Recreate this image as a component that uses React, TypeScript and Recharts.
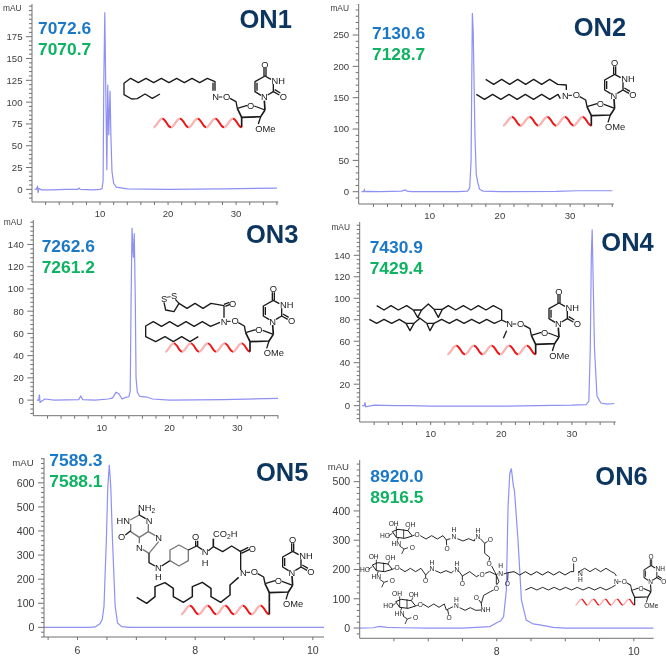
import React from 'react';
import { LineChart, Line, XAxis, YAxis } from 'recharts';

const on1Time = [0.4, 0.6, 0.8, 0.9, 1.0, 1.4, 3, 5, 6.7, 6.9, 7.1, 9, 10, 10.3, 10.45, 10.55, 10.7, 10.85, 11.0, 11.13, 11.28, 11.47, 11.6, 11.76, 12.0, 12.4, 14, 20, 28, 36];
const on1Signal = [0, 0, 3, -4, 1, -0.5, -0.5, 0, 0, 1.5, 0, -0.5, 0, 1, 10, 120, 203, 110, 22, 120, 62, 113, 60, 20, 7, 2.5, 0.5, 0, 0.5, 1.5];
const on2Time = [0.3, 0.6, 0.7, 0.8, 1.2, 3, 4.5, 6, 6.5, 6.8, 7.4, 10, 14, 15.4, 15.7, 15.9, 16.08, 16.2, 16.3, 16.45, 16.63, 16.85, 17.1, 17.6, 20, 28, 31, 36];
const on2Signal = [0, 0, 3, 0, 0.5, 0, 0.5, 1, 3, 1, 0, 0, 0, 1, 6, 50, 285, 255, 190, 90, 28, 15, 4, 1, 0, 0.5, 1.5, 1.5];
const on3Time = [0.4, 0.7, 0.8, 0.9, 1.6, 3, 6.6, 6.9, 7.2, 9, 11, 11.6, 12.1, 12.5, 13, 13.5, 14, 14.2, 14.33, 14.47, 14.6, 14.67, 14.8, 14.95, 15.06, 15.25, 15.6, 16.1, 16.5, 17.5, 20, 28, 36];
const on3Signal = [0, 0, 5, -2, 1, 0, 0.5, 3.5, 0.5, 0, 1, 2, 7, 6, 1, 2.5, 3, 8, 90, 155, 135, 128, 150, 90, 20, 7, 3.5, 3, 3, 1, 0, 0.5, 1.5];
const on4Time = [0.3, 0.6, 0.7, 0.8, 2, 5, 6.7, 7.1, 10, 15, 20, 25, 30, 32, 32.4, 32.6, 32.75, 32.87, 33, 33.2, 33.55, 34.1, 35, 36];
const on4Signal = [0, 0, 3, -1, 0.5, 0, 0, 0, -0.5, -0.5, -0.5, 0, 0.5, 1, 4, 53, 140, 164, 120, 53, 9, 2.5, 1.5, 2];
const on5Time = [5.43, 6.2, 6.3, 6.38, 6.42, 6.45, 6.49, 6.515, 6.54, 6.565, 6.594, 6.64, 6.68, 6.75, 6.9, 8, 10.19];
const on5Signal = [0, 0, 2, 15, 32, 87, 364, 585, 675, 585, 364, 87, 18, 3, 0, 0, 0];
const on6Time = [6, 6.2, 6.29, 6.4, 6.6, 7, 7.5, 7.9, 8, 8.06, 8.1, 8.14, 8.165, 8.19, 8.213, 8.24, 8.26, 8.31, 8.36, 8.43, 8.53, 8.65, 8.82, 9, 10.29];
const on6Signal = [0, 1, 6, 2, 1, 0, 0, 5, 18, 25, 39, 130, 414, 528, 545, 490, 465, 300, 96, 27, 14, 10, 2, 0, 0];

const on1YTicks = [-10, -5, 0, 5, 10, 15, 20, 25, 30, 35, 40, 45, 50, 55, 60, 65, 70, 75, 80, 85, 90, 95, 100, 105, 110, 115, 120, 125, 130, 135, 140, 145, 150, 155, 160, 165, 170, 175, 180, 185, 190, 195, 200, 205, 210];
const on1YLabels = [0, 25, 50, 75, 100, 125, 150, 175];
const on2YTicks = [-10, 0, 10, 20, 30, 40, 50, 60, 70, 80, 90, 100, 110, 120, 130, 140, 150, 160, 170, 180, 190, 200, 210, 220, 230, 240, 250, 260, 270, 280, 290, 300];
const on2YLabels = [0, 50, 100, 150, 200, 250];
const on3YTicks = [-12, -8, -4, 0, 4, 8, 12, 16, 20, 24, 28, 32, 36, 40, 44, 48, 52, 56, 60, 64, 68, 72, 76, 80, 84, 88, 92, 96, 100, 104, 108, 112, 116, 120, 124, 128, 132, 136, 140, 144, 148, 152, 156, 160];
const on3YLabels = [0, 20, 40, 60, 80, 100, 120, 140];
const on4YTicks = [-12, -8, -4, 0, 4, 8, 12, 16, 20, 24, 28, 32, 36, 40, 44, 48, 52, 56, 60, 64, 68, 72, 76, 80, 84, 88, 92, 96, 100, 104, 108, 112, 116, 120, 124, 128, 132, 136, 140, 144, 148, 152, 156, 160, 164, 168];
const on4YLabels = [0, 20, 40, 60, 80, 100, 120, 140];
const on5YTicks = [-40, -20, 0, 20, 40, 60, 80, 100, 120, 140, 160, 180, 200, 220, 240, 260, 280, 300, 320, 340, 360, 380, 400, 420, 440, 460, 480, 500, 520, 540, 560, 580, 600, 620, 640, 660, 680, 700];
const on5YLabels = [0, 100, 200, 300, 400, 500, 600];
const on6YTicks = [-20, 0, 20, 40, 60, 80, 100, 120, 140, 160, 180, 200, 220, 240, 260, 280, 300, 320, 340, 360, 380, 400, 420, 440, 460, 480, 500, 520, 540, 560];
const on6YLabels = [0, 100, 200, 300, 400, 500];
const longXTicks = [2, 4, 6, 8, 10, 12, 14, 16, 18, 20, 22, 24, 26, 28, 30, 32, 34, 36];
const longXLabels = [10, 20, 30];
const on5XTicks = [5.5, 6, 6.5, 7, 7.5, 8, 8.5, 9, 9.5, 10];
const on6XTicks = [6.5, 7, 7.5, 8, 8.5, 9, 9.5, 10];
const shortXLabels = [6, 8, 10];

const TRACE = '#8e90f4';
const AXIS = '#707070';
const TICK_TEXT = '#3c3c3c';
const SANS = '"Liberation Sans", Arial, sans-serif';

const toRows = (time: number[], signal: number[]) => time.map((t, i) => ({ t, v: signal[i] }));

const Chart = (p: any) => {
  const w = p.axisRight + 8 - p.left;
  const h = p.axisY + 22 - p.top;
  const xMajor = (v: number) => p.xLabels.includes(v);
  const yMajor = (v: number) => p.yLabels.includes(v);
  return (
    <div style={{ position: 'absolute', left: p.left, top: p.top }}>
      <LineChart width={w} height={h} data={toRows(p.time, p.signal)} margin={{ top: p.axisTop - p.top, right: 8, left: 0, bottom: 0 }}>
        <XAxis
          dataKey="t"
          type="number"
          domain={p.xDomain}
          allowDataOverflow
          ticks={p.xTicks}
          interval={0}
          height={22}
          stroke={AXIS}
          tickLine={false}
          tickSize={0}
          tickMargin={0}
          tick={(t: any) => (
            <g>
              <line x1={t.x} x2={t.x} y1={t.y} y2={t.y + 3} stroke={AXIS} />
              {xMajor(t.payload.value) && (
                <text x={t.x} y={t.y + p.xLabelGap} textAnchor="middle" fontSize={p.fontSize} fontFamily={SANS} fill={TICK_TEXT}>{t.payload.value}</text>
              )}
            </g>
          )}
        />
        <YAxis
          type="number"
          domain={p.yDomain}
          allowDataOverflow
          ticks={p.yTicks}
          interval={0}
          width={p.axisX - p.left}
          stroke={AXIS}
          tickLine={false}
          tickSize={0}
          tickMargin={0}
          tick={(t: any) => (
            <g>
              <line x1={t.x - (yMajor(t.payload.value) ? 6 : 3)} x2={t.x} y1={t.y} y2={t.y} stroke={AXIS} />
              {yMajor(t.payload.value) && (
                <text x={t.x - 9.5} y={t.y + p.fontSize * 0.36} textAnchor="end" fontSize={p.fontSize} fontFamily={SANS} fill={TICK_TEXT}>{t.payload.value}</text>
              )}
            </g>
          )}
        />
        <Line dataKey="v" type="linear" stroke={TRACE} strokeWidth={1.2} dot={false} isAnimationActive={false} />
      </LineChart>
    </div>
  );
};

// skeleton drawings are in crop coordinates (3x), each panel group scales them back
const zig = (x: number, y: number, n: number, step: number, rise: number) =>
  Array.from({ length: n }, (_, i) => `${x + i * step},${i % 2 ? y + rise : y}`).join(' ');

const Bond = ({ d, w = 4, c = '#1a1a1a' }: { d: string; w?: number; c?: string }) => (
  <polyline points={d} fill="none" stroke={c} strokeWidth={w} strokeLinejoin="round" />
);

const Atom = ({ x, y, t, s = 28 }: { x: number; y: number; t: React.ReactNode; s?: number }) => (
  <text x={x} y={y + s * 0.36} textAnchor="middle" fontSize={s} fontFamily={SANS} fill="#1a1a1a">{t}</text>
);

const Helix = ({ x, y, s = 1 }: { x: number; y: number; s?: number }) => (
  <g transform={`translate(${x},${y}) scale(${s})`}>
    {[0, 1, 2, 3, 4].map((i) => {
      const b = -265 + 53 * i;
      return (
        <g key={i} fill="none">
          <path d={`M${b},0 C${b + 10},0 ${b + 16},-26 ${b + 27},-26`} stroke="#f8b4b4" strokeWidth={7} />
          <path d={`M${b + 27},-26 C${b + 38},-26 ${b + 42},0 ${b + 53},0`} stroke="#f01515" strokeWidth={6} />
        </g>
      );
    })}
  </g>
);

const Nucleoside = ({ x, y, s = 1, sx }: { x: number; y: number; s?: number; sx?: number }) => (
  <g transform={`translate(${x},${y}) scale(${sx ?? s},${s})`}>
    <Bond d="0,0 0,-30 57,-32 70,-52" w={5} />
    <Bond d="0,-30 -13,-57" w={5} />
    <Bond d="-13,-57 17,-66" />
    <Bond d="38,-64 70,-52" />
    <Atom x={27} y={-65} t="O" />
    <Bond d="57,-32 50,-10" />
    <text x={41} y={13} fontSize={28} fontFamily={SANS} fill="#1a1a1a">OMe</text>
    <Bond d="70,-52 68,-80" w={5} />
    <Atom x={68} y={-91} t="N" />
    <Bond d="58,-96 40,-107 40,-137 70,-154 88,-144" />
    <Bond d="46,-110 46,-134" />
    <Atom x={110} y={-141} t="NH" />
    <Bond d="95,-130 95,-107 78,-97" />
    <Bond d="95,-107 113,-97" />
    <Bond d="99,-113 116,-103" />
    <Atom x={125} y={-92} t="O" />
    <Bond d="67,-154 67,-178" />
    <Bond d="73,-154 73,-178" />
    <Atom x={70} y={-188} t="O" />
    <Bond d="-13,-57 -17,-77 -35,-87" />
    <Atom x={-45} y={-92} t="O" />
    <Bond d="-69,-91 -58,-91" w={3} />
    <Atom x={-78} y={-91} t="N" />
  </g>
);

const GalNAc = ({ x, y }: { x: number; y: number }) => (
  <g transform={`translate(${x},${y})`}>
    <Bond d="178,275 195,268 225,272 238,288 215,295 190,292 178,275" w={3} />
    <Bond d="190,259 190,292" w={2.5} />
    <Bond d="212,268 212,295" w={2.5} />
    <Bond d="225,272 230,262" w={2.5} />
    <Bond d="166,288 178,280" w={2.5} />
    <Bond d="196,294 193,302" w={2.5} />
    <Bond d="238,288 245,285" w={2.5} />
    <Bond d="200,318 213,327 225,323" w={2.5} />
    <Bond d="213,327 206,342" w={2.5} />
    <Atom x={182} y={250} t="OH" s={20} />
    <Atom x={232} y={254} t="OH" s={20} />
    <Atom x={156} y={288} t="HO" s={20} />
    <Atom x={190} y={310} t="HN" s={20} />
    <Atom x={238} y={322} t="O" s={20} />
    <Atom x={252} y={283} t="O" s={20} />
  </g>
);

const Panel = ({ x, y, children }: { x: number; y: number; children: React.ReactNode }) => (
  <g transform={`translate(${x},${y}) scale(${1 / 3})`}>{children}</g>
);

const Structures = () => (
  <svg width={666} height={657} style={{ position: 'absolute', left: 0, top: 0 }}>
    <Panel x={0} y={0}>
      <Bond d={`480,282 457,295 435,282 412,296 395,297 372,284 372,250 392,235 ${zig(415, 248, 10, 23, -13)} 645,245 645,272`} />
      <Bond d="639,248 639,272" />
      <Helix x={725} y={382} />
      <Nucleoside x={725} y={382} />
    </Panel>
    <Panel x={333} y={0}>
      <Bond d={`${zig(458, 238, 10, 24, 15)} 700,255 700,270`} />
      <Bond d={`${zig(430, 283, 11, 24.5, 15)} 682,296`} />
      <Helix x={775} y={377} />
      <Nucleoside x={775} y={377} />
    </Panel>
    <Panel x={0} y={215}>
      <Atom x={492} y={250} t="S" />
      <Atom x={522} y={243} t="S" />
      <Bond d="492,262 497,285 522,290 537,265 526,253" />
      <Bond d="500,247 512,245" w={2.5} />
      <Bond d={`${zig(537, 265, 5, 24, 15)} 672,272 672,308`} />
      <Bond d="672,268 688,262" />
      <Bond d="676,274 690,268" />
      <Atom x={698} y={265} t="O" />
      <Bond d={`595,365 570,380 545,365 520,380 495,365 467,380 437,365 437,333 ${zig(460, 320, 8, 24.5, 14)} 660,322`} />
      <Helix x={750} y={410} s={0.96} />
      <Nucleoside x={750} y={410} />
    </Panel>
    <Panel x={333} y={215}>
      <Bond d="131,272 153,285 174,272 196,285 221,272 241,285" />
      <Bond d="266,285 286,267 303,283" />
      <Bond d="328,283 346,272 368,285 391,272 414,285 436,272 459,285 481,272 506,285 506,315 521,322" />
      <Bond d="109,313 131,325 153,313 176,325 199,313 219,325" />
      <Bond d="243,325 261,310 281,325" />
      <Bond d="303,325 326,313 349,325 371,313 393,325 416,313 439,325 461,313 484,325 506,315" />
      <Bond d="241,285 266,285 254,307 241,285" />
      <Bond d="303,283 328,283 316,307 303,283" />
      <Bond d="219,325 243,325 231,347 219,325" />
      <Bond d="281,325 303,325 291,347 281,325" />
      <Bond d="254,307 261,310" />
      <Bond d="521,347 511,370" />
      <Helix x={608} y={418} />
      <Nucleoside x={608} y={418} />
    </Panel>
    <Panel x={0} y={440}>
      <Atom x={440} y={203} t={<>NH<tspan dy={6} fontSize={20}>2</tspan></>} />
      <Atom x={370} y={243} t="HN" />
      <Atom x={447} y={243} t="N" />
      <Atom x={365} y={290} t="O" />
      <Atom x={476} y={293} t="N" />
      <Atom x={418} y={322} t="N" />
      <Bond d="418,212 418,225 437,236" />
      <Bond d="418,225 390,240" c="#777777" />
      <Bond d="392,252 392,275 418,292 445,275 445,252" c="#777777" />
      <Bond d="418,292 418,310" c="#777777" />
      <Bond d="445,275 466,287" c="#777777" />
      <Bond d="476,305 447,340 428,328" c="#777777" />
      <Bond d="392,272 376,285" />
      <Bond d="447,340 447,368 465,378" />
      <Atom x={475} y={383} t="N" />
      <Atom x={475} y={410} t="H" />
      <Bond d="485,378 510,362" />
      <Bond d="510,362 510,330 537,315 565,330 565,362 537,378 510,362" c="#777777" />
      <Bond d="565,330 590,318 606,328" />
      <Bond d="587,318 587,302" />
      <Bond d="593,318 593,302" />
      <Atom x={587} y={291} t="O" />
      <Atom x={615} y={335} t="N" />
      <Atom x={615} y={368} t="H" />
      <Bond d="625,332 640,320 668,335 695,318 722,335" />
      <Bond d="640,320 640,296" w={5} />
      <Atom x={676} y={282} t={<>CO<tspan dy={6} fontSize={20}>2</tspan><tspan dy={-6}>H</tspan></>} />
      <Bond d="720,335 745,322" />
      <Bond d="724,340 749,328" />
      <Atom x={757} y={325} t="O" />
      <Bond d="722,335 722,390" />
      <Bond d="410,472 440,490 465,470 465,440 495,428 520,445 520,470 550,487 577,470 577,440 607,427 633,445 633,470 662,487 690,465 690,435 716,412" w={4.5} />
      <Helix x={808} y={523} />
      <Bond d="808,523 808,488" w={5} />
      <Nucleoside x={808} y={488} />
    </Panel>
    <Panel x={333} y={440}>
      <GalNAc x={0} y={0} />
      <GalNAc x={-60} y={100} />
      <GalNAc x={10} y={210} />
      <Bond d={`${zig(262, 287, 5, 17, 10)} 340,300 352,296`} w={2.8} />
      <Bond d="340,300 341,316" w={2.8} />
      <Atom x={342} y={325} t="O" s={20} />
      <Atom x={363} y={291} t="N" s={20} />
      <Atom x={363} y={270} t="H" s={20} />
      <Bond d={`${zig(373, 296, 4, 17, 7)} 426,296`} w={2.8} />
      <Atom x={435} y={290} t="N" s={20} />
      <Atom x={435} y={272} t="H" s={20} />
      <Bond d="442,296 455,310 464,304" w={2.8} />
      <Atom x={472} y={300} t="O" s={20} />
      <Bond d="455,310 455,340 470,352 468,362" w={2.8} />
      <Atom x={468} y={372} t="O" s={20} />
      <Bond d="476,378 485,395 490,405" w={2.8} />
      <Bond d={`${zig(200, 385, 5, 16, 10)} 278,405 290,392`} w={2.8} />
      <Bond d="278,405 278,414" w={2.8} />
      <Atom x={278} y={423} t="O" s={20} />
      <Atom x={297} y={387} t="N" s={20} />
      <Atom x={297} y={367} t="H" s={20} />
      <Bond d={`${zig(307, 392, 4, 16, 7)} 362,392`} w={2.8} />
      <Atom x={372} y={388} t="N" s={20} />
      <Atom x={372} y={370} t="H" s={20} />
      <Bond d="378,394 388,408 388,422" w={2.8} />
      <Atom x={388} y={432} t="O" s={20} />
      <Bond d="388,408 410,395 430,410 438,406" w={2.8} />
      <Atom x={447} y={403} t="O" s={20} />
      <Bond d="456,400 470,395 490,405 490,432" w={2.8} />
      <Bond d={`${zig(270, 492, 5, 16, 10)} 340,510 360,500`} w={2.8} />
      <Bond d="344,510 347,524" w={2.8} />
      <Atom x={348} y={533} t="O" s={20} />
      <Atom x={370} y={498} t="N" s={20} />
      <Atom x={370} y={478} t="H" s={20} />
      <Bond d={`${zig(380, 503, 4, 16, 8)} 445,510`} w={2.8} />
      <Atom x={458} y={508} t="NH" s={20} />
      <Bond d="446,500 445,490 438,480" w={2.8} />
      <Atom x={430} y={472} t="O" s={20} />
      <Bond d="445,490 452,466 472,455 482,450" w={2.8} />
      <Atom x={490} y={445} t="O" s={20} />
      <Bond d="490,436 498,425 490,405" w={2.8} />
      <Atom x={503} y={378} t="H" s={20} />
      <Atom x={503} y={400} t="N" s={20} />
      <Bond d="490,405 495,400" w={2.8} />
      <Bond d="512,402 525,398 524,422" w={2.8} />
      <Atom x={523} y={432} t="O" s={20} />
      <Bond d={`525,398 ${zig(543, 395, 11, 17, 10)} 722,395`} w={3} />
      <Bond d="722,395 722,370" w={2.8} />
      <Atom x={725} y={360} t="O" s={20} />
      <Atom x={742} y={402} t="N" s={20} />
      <Atom x={742} y={420} t="H" s={20} />
      <Bond d={`735,397 ${zig(755, 385, 6, 16, 10)} 845,400 850,408`} w={2.8} />
      <Bond d={`${zig(577, 450, 16, 17.3, -8)} 848,435`} w={2.8} />
      <Helix x={905} y={495} s={0.67} />
      <Nucleoside x={905} y={495} s={0.77} sx={0.7} />
    </Panel>
  </svg>
);

const Masses = ({ x, y1, y2, a, b }: { x: number; y1: number; y2: number; a: string; b: string }) => (
  <>
    <text x={x} y={y1} fontSize={17.4} fontWeight="bold" fontFamily={SANS} fill="#1a78c8">{a}</text>
    <text x={x} y={y2} fontSize={17.4} fontWeight="bold" fontFamily={SANS} fill="#0db360">{b}</text>
  </>
);

const Title = ({ x, y, t }: { x: number; y: number; t: string }) => (
  <text x={x} y={y} fontSize={25.5} fontWeight="bold" fontFamily={SANS} fill="#0c355f">{t}</text>
);

const Unit = ({ x, y, end, s = 8.4 }: { x: number; y: number; end?: boolean; s?: number }) => (
  <text x={x} y={y} fontSize={s} textAnchor={end ? 'end' : 'start'} fontFamily={SANS} fill={TICK_TEXT}>mAU</text>
);

export default function App() {
  return (
    <div style={{ position: 'absolute', left: 0, top: 0, width: 666, height: 657, background: '#fff', overflow: 'hidden', filter: 'blur(0.3px)' }}>
      <Chart left={0} top={4} axisX={32} axisY={202} axisTop={4} axisRight={278.3} time={on1Time} signal={on1Signal} xDomain={[0, 36.2]} yDomain={[-14.5, 212.5]} xTicks={longXTicks} xLabels={longXLabels} yTicks={on1YTicks} yLabels={on1YLabels} fontSize={9.6} xLabelGap={15.5} />
      <Chart left={326} top={4} axisX={358.7} axisY={204} axisTop={4} axisRight={613.7} time={on2Time} signal={on2Signal} xDomain={[-0.1, 36.2]} yDomain={[-19.6, 299.5]} xTicks={longXTicks} xLabels={longXLabels} yTicks={on2YTicks} yLabels={on2YLabels} fontSize={9.6} xLabelGap={15.5} />
      <Chart left={0} top={220} axisX={33.3} axisY={415.7} axisTop={220} axisRight={278.3} time={on3Time} signal={on3Signal} xDomain={[-0.1, 36.05]} yDomain={[-14, 162]} xTicks={longXTicks} xLabels={longXLabels} yTicks={on3YTicks} yLabels={on3YLabels} fontSize={9.6} xLabelGap={15.5} />
      <Chart left={326} top={222.3} axisX={359.7} axisY={422.3} axisTop={222.3} axisRight={615.7} time={on4Time} signal={on4Signal} xDomain={[-0.05, 36.2]} yDomain={[-15.2, 171]} xTicks={longXTicks} xLabels={longXLabels} yTicks={on4YTicks} yLabels={on4YLabels} fontSize={9.6} xLabelGap={15.5} />
      <Chart left={0} top={458.3} axisX={44} axisY={637.3} axisTop={458.3} axisRight={324} time={on5Time} signal={on5Signal} xDomain={[5.43, 10.19]} yDomain={[-40, 703]} xTicks={on5XTicks} xLabels={shortXLabels} yTicks={on5YTicks} yLabels={on5YLabels} fontSize={10.6} xLabelGap={17} />
      <Chart left={326} top={460} axisX={359.7} axisY={638.3} axisTop={460} axisRight={653.7} time={on6Time} signal={on6Signal} xDomain={[6, 10.29]} yDomain={[-35, 574]} xTicks={on6XTicks} xLabels={shortXLabels} yTicks={on6YTicks} yLabels={on6YLabels} fontSize={10.6} xLabelGap={17} />
      <Structures />
      <svg width={666} height={657} style={{ position: 'absolute', left: 0, top: 0 }}>
        <Unit x={3} y={10.5} />
        <Unit x={349} y={11} end />
        <Unit x={3.7} y={225} />
        <Unit x={350} y={230} end />
        <Unit x={12.3} y={466} s={9.6} />
        <Unit x={349} y={470} end s={9.6} />
        <Masses x={38} y1={34.3} y2={55} a="7072.6" b="7070.7" />
        <Masses x={372} y1={39} y2={59.5} a="7130.6" b="7128.7" />
        <Masses x={41.7} y1={252.3} y2={273.3} a="7262.6" b="7261.2" />
        <Masses x={369.7} y1={253.3} y2={274.3} a="7430.9" b="7429.4" />
        <Masses x={49.3} y1={465.7} y2={486.7} a="7589.3" b="7588.1" />
        <Masses x={370.3} y1={481.7} y2={503.3} a="8920.0" b="8916.5" />
        <Title x={239.5} y={27.5} t="ON1" />
        <Title x={573.7} y={35.7} t="ON2" />
        <Title x={246} y={243.3} t="ON3" />
        <Title x={601.3} y={250.7} t="ON4" />
        <Title x={256} y={480.7} t="ON5" />
        <Title x={595.3} y={485} t="ON6" />
      </svg>
    </div>
  );
}
